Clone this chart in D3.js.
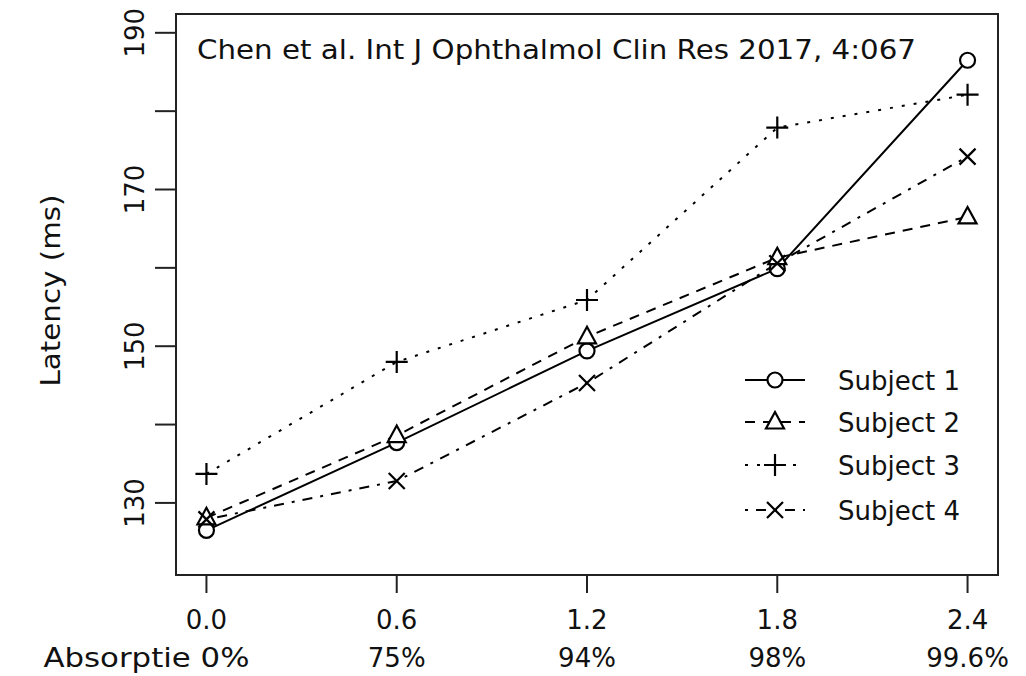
<!DOCTYPE html>
<html>
<head>
<meta charset="utf-8">
<script src="https://cdn.jsdelivr.net/npm/d3@7"></script>
<style>
  body { margin: 0; background: #fff; }
  svg { display: block; font-family: "DejaVu Sans", Verdana, sans-serif; }
</style>
</head>
<body>
<div id="chart"></div>
<script>
const doses = [0.0, 0.6, 1.2, 1.8, 2.4];
const doseLabels = ["0.0", "0.6", "1.2", "1.8", "2.4"];
const absorption = ["Absorptie 0%", "75%", "94%", "98%", "99.6%"];
const yTicks = [130, 140, 150, 160, 170, 180, 190];
const yLabelTicks = [130, 150, 170, 190];

const subject1 = [126.5, 137.7, 149.4, 159.9, 186.5];
const subject2 = [128.1, 138.6, 151.2, 161.3, 166.5];
const subject3 = [133.7, 148.0, 155.9, 177.9, 182.1];
const subject4 = [127.9, 132.8, 145.3, 160.6, 174.2];

const subjects = [
    { name: "Subject 1", values: subject1, dash: null, sym: "circle" },
    { name: "Subject 2", values: subject2, dash: "10,8", sym: "triangle" },
    { name: "Subject 3", values: subject3, dash: "3,9", sym: "plus" },
    { name: "Subject 4", values: subject4, dash: "3,8,10,8", sym: "cross" }
];

const width = 1026, height = 676;
const box = { left: 176, right: 998, top: 14, bottom: 575 };
const fontSize = 26;

const svg = d3.select("#chart").append("svg")
    .attr("width", width)
    .attr("height", height);

const x = d3.scaleLinear()
    .domain([-0.096, 2.496])
    .range([box.left, box.right]);

const y = d3.scaleLinear()
    .domain([120.8, 192.4])
    .range([box.bottom, box.top]);

// symbols, R pch 1/2/3/4
const drawSymbol = (g, type, cx, cy) => {
    const s = g.append("g").attr("transform", `translate(${cx},${cy})`)
        .attr("fill", "none").attr("stroke", "#000").attr("stroke-width", 2.2);
    if (type === "circle") {
        s.append("circle").attr("r", 7.5).attr("fill", "#fff");
    } else if (type === "triangle") {
        s.append("path").attr("d", "M0,-10L9,6.5L-9,6.5Z").attr("fill", "#fff");
    } else if (type === "plus") {
        s.append("path").attr("d", "M-11,0H11M0,-11V11");
    } else {
        s.append("path").attr("d", "M-8,-8L8,8M-8,8L8,-8");
    }
};

const line = d3.line()
    .x((d, i) => x(doses[i]))
    .y(d => y(d));

subjects.forEach(sub => {
    svg.append("path")
        .datum(sub.values)
        .attr("fill", "none")
        .attr("stroke", "#000")
        .attr("stroke-width", 2)
        .attr("stroke-dasharray", sub.dash)
        .attr("d", line);
});

subjects.forEach(sub => {
    sub.values.forEach((v, i) => drawSymbol(svg, sub.sym, x(doses[i]), y(v)));
});

// plot box
svg.append("rect")
    .attr("x", box.left).attr("y", box.top)
    .attr("width", box.right - box.left)
    .attr("height", box.bottom - box.top)
    .attr("fill", "none")
    .attr("stroke", "#222")
    .attr("stroke-width", 2);

// y axis
const yAxis = svg.append("g");
yAxis.selectAll("line")
    .data(yTicks)
    .enter().append("line")
    .attr("x1", box.left - 21).attr("x2", box.left)
    .attr("y1", d => y(d)).attr("y2", d => y(d))
    .attr("stroke", "#222").attr("stroke-width", 2);

yAxis.selectAll("text")
    .data(yLabelTicks)
    .enter().append("text")
    .attr("transform", d => `translate(144,${y(d)}) rotate(-90)`)
    .attr("text-anchor", "middle")
    .attr("font-size", fontSize)
    .attr("fill", "#111")
    .text(d => d);

svg.append("text")
    .attr("transform", `translate(60,${(box.top + box.bottom) / 2 - 4}) rotate(-90)`)
    .attr("text-anchor", "middle")
    .attr("font-size", fontSize)
    .attr("textLength", 192)
    .attr("lengthAdjust", "spacingAndGlyphs")
    .attr("fill", "#111")
    .text("Latency (ms)");

// x axis
const xAxis = svg.append("g");
xAxis.selectAll("line")
    .data(doses)
    .enter().append("line")
    .attr("x1", d => x(d)).attr("x2", d => x(d))
    .attr("y1", box.bottom).attr("y2", box.bottom + 18)
    .attr("stroke", "#222").attr("stroke-width", 2);

xAxis.selectAll("text.dose")
    .data(doseLabels)
    .enter().append("text")
    .attr("class", "dose")
    .attr("x", (d, i) => x(doses[i]))
    .attr("y", 629)
    .attr("text-anchor", "middle")
    .attr("font-size", fontSize)
    .attr("fill", "#111")
    .text(d => d);

xAxis.selectAll("text.abs")
    .data(absorption)
    .enter().append("text")
    .attr("class", "abs")
    .attr("x", (d, i) => i === 0 ? x(doses[i]) + 43 : x(doses[i]))
    .attr("y", 667)
    .attr("text-anchor", (d, i) => i === 0 ? "end" : "middle")
    .attr("font-size", fontSize)
    .attr("fill", "#111")
    .text(d => d);

// stretch the long first label to the reference width
xAxis.select("text.abs")
    .attr("textLength", 206)
    .attr("lengthAdjust", "spacingAndGlyphs");

// citation inside plot
svg.append("text")
    .attr("x", 197)
    .attr("y", 59)
    .attr("font-size", fontSize)
    .attr("textLength", 719)
    .attr("lengthAdjust", "spacingAndGlyphs")
    .attr("fill", "#111")
    .text("Chen et al. Int J Ophthalmol Clin Res 2017, 4:067");

// legend
const legend = svg.append("g");
const legendRows = [380, 422, 465, 510];
subjects.forEach((sub, i) => {
    const ly = legendRows[i];
    legend.append("line")
        .attr("x1", 745).attr("x2", 805)
        .attr("y1", ly).attr("y2", ly)
        .attr("stroke", "#000").attr("stroke-width", 2)
        .attr("stroke-dasharray", sub.dash);
    drawSymbol(legend, sub.sym, 775, ly);
    legend.append("text")
        .attr("x", 838).attr("y", ly + 10)
        .attr("font-size", fontSize)
        .attr("fill", "#111")
        .text(sub.name);
});
</script>
</body>
</html>
